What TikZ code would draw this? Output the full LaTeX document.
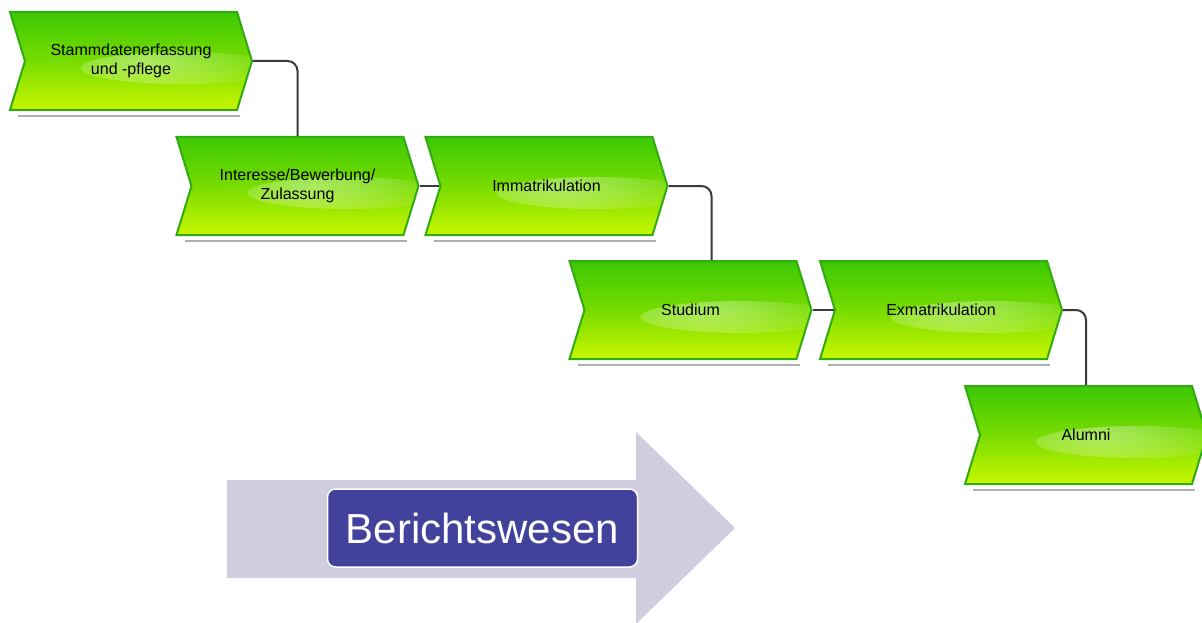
\documentclass[tikz,border=0pt]{standalone}
\usepackage{fontspec}
\setmainfont{Liberation Sans}
\usetikzlibrary{shapes.symbols,calc,fadings}

\definecolor{stepgreen}{RGB}{60,200,4}
\definecolor{stepmid}{RGB}{120,220,0}
\definecolor{stepyellow}{RGB}{200,246,0}
\definecolor{steprim}{RGB}{48,172,18}
\definecolor{linkgray}{RGB}{58,58,62}
\definecolor{shadowgray}{RGB}{175,175,178}
\definecolor{arrowlilac}{RGB}{206,206,223}
\definecolor{reportblue}{RGB}{66,66,156}

\tikzfading[name=gloss, inner color=transparent!30, outer color=transparent!100]

\tikzset{
	phase/.style={signal, signal from=west, signal to=east, signal pointer angle=146,
		minimum width=242pt, minimum height=98pt, inner sep=0pt,
		top color=stepgreen, bottom color=stepyellow, middle color=stepmid, draw=steprim, line width=2pt,
		align=center, font=\fontsize{16}{18.5}\selectfont,
		path picture={\fill[white, path fading=gloss, fit fading=true, opacity=0.55]
			($(path picture bounding box.center)+(50,7)$) ellipse [x radius=100pt, y radius=16pt];}},
	link/.style={draw=linkgray, line width=2pt, rounded corners=10pt},
	report/.style={draw=white, line width=1.5pt, fill=reportblue, rounded corners=8pt,
		minimum width=310pt, minimum height=78pt, text=white, font=\fontsize{42}{48}\selectfont}
}

\begin{document}
\begin{tikzpicture}[x=1pt,y=-1pt]
\useasboundingbox (0,0) rectangle (1202,623);

\fill[arrowlilac] (227,480) -- (636,480) -- (636,432) -- (735,528) -- (636,624) -- (636,578) -- (227,578) -- cycle;
\node[report] (report) at (482.5,528) {Berichtswesen};

\node[phase] (stamm) at (131,61) {Stammdatenerfassung\\und -pflege};
\node[phase] (interesse) at (297.5,186) {Interesse/Bewerbung/\\Zulassung};
\node[phase] (immat) at (546.5,186) {Immatrikulation};
\node[phase] (studium) at (690.5,310) {Studium};
\node[phase] (exmat) at (941,310) {Exmatrikulation};
\node[phase] (alumni) at (1086,435) {Alumni};

\foreach \n in {stamm,interesse,immat,studium,exmat,alumni}
	\draw[shadowgray, line width=1.5pt] ($(\n.south)+(-113,5)$) -- ($(\n.south)+(109,5)$);

\draw[link] (stamm.east) -| (interesse.north);
\draw[link] (interesse.east) -- (immat.west);
\draw[link] (immat.east) -| ($(studium.north)+(21,0)$);
\draw[link] (studium.east) -- (exmat.west);
\draw[link] (exmat.east) -| (alumni.north);
\end{tikzpicture}
\end{document}
